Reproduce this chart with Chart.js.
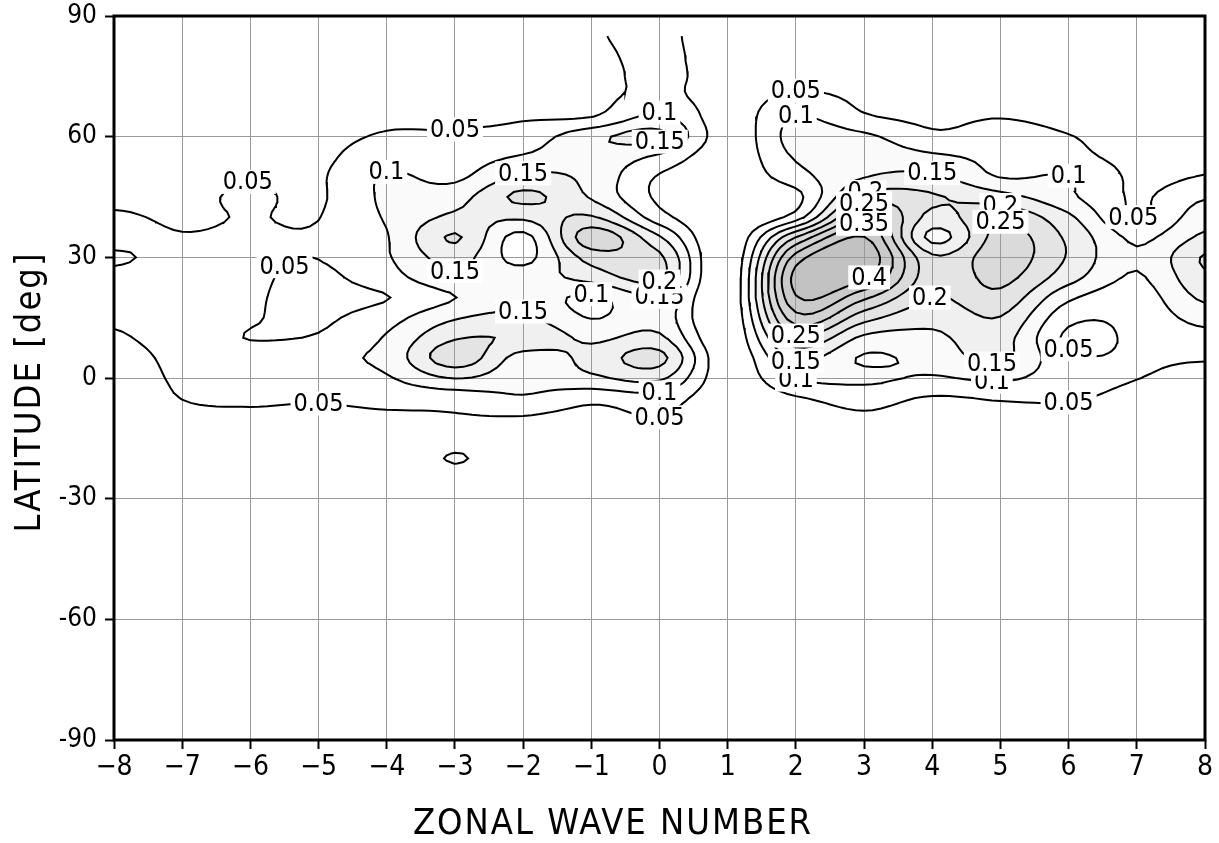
<!DOCTYPE html>
<html>
<head>
<meta charset="utf-8">
<title>Zonal wave number spectrum</title>
<script src="https://cdn.jsdelivr.net/npm/chart.js@4.4.1/dist/chart.umd.min.js"></script>
<style>
  html, body { margin: 0; padding: 0; background: #fff; }
  #box { position: relative; width: 1219px; height: 843px; }
</style>
</head>
<body>
<div id="box"><canvas id="spectrum"></canvas></div>
<script>
'use strict';

// ============================================================
// Data — spectral power on a (wave number x latitude) grid
// ============================================================
const waveNumbers = [-8, -7, -6, -5, -4, -3, -2, -1, 0, 1, 2, 3, 4, 5, 6, 7, 8];
const latitudes   = [85, 80, 75, 70, 65, 60, 55, 50, 45, 40, 35, 30, 25, 20, 15, 10, 5, 0, -5, -10, -15, -20, -25, -30];

// one column per wave number, values listed north -> south (same order as latitudes)
const powerByWave = [
  [0.000,0.005,0.010,0.015,0.020,0.025,0.030,0.035,0.040,0.055,0.060,0.046,0.058,0.060,0.055,0.045,0.030,0.020,0.012,0.008,0.005,0.003,0.000,0.000], // -8
  [0.000,0.005,0.010,0.015,0.020,0.025,0.030,0.035,0.040,0.045,0.052,0.060,0.065,0.065,0.065,0.065,0.062,0.058,0.051,0.035,0.020,0.010,0.000,0.000], // -7
  [0.000,0.005,0.010,0.020,0.030,0.035,0.040,0.048,0.056,0.052,0.056,0.060,0.058,0.055,0.053,0.049,0.060,0.060,0.056,0.040,0.020,0.010,0.000,0.000], // -6
  [0.000,0.005,0.010,0.020,0.030,0.035,0.040,0.045,0.045,0.049,0.055,0.051,0.040,0.035,0.042,0.055,0.090,0.070,0.055,0.035,0.020,0.010,0.000,0.000], // -5
  [0.000,0.005,0.010,0.020,0.040,0.055,0.080,0.105,0.110,0.105,0.097,0.095,0.080,0.048,0.080,0.105,0.115,0.095,0.065,0.040,0.020,0.010,0.000,0.000], // -4
  [0.000,0.010,0.015,0.025,0.042,0.055,0.075,0.090,0.130,0.160,0.205,0.170,0.140,0.099,0.145,0.195,0.230,0.152,0.070,0.046,0.035,0.053,0.030,0.000], // -3
  [0.010,0.015,0.020,0.030,0.045,0.070,0.105,0.160,0.210,0.160,0.085,0.085,0.125,0.130,0.160,0.190,0.130,0.115,0.095,0.045,0.030,0.015,0.010,0.000], // -2
  [0.045,0.040,0.035,0.035,0.048,0.135,0.130,0.135,0.145,0.205,0.280,0.220,0.170,0.090,0.098,0.140,0.165,0.140,0.065,0.030,0.020,0.010,0.005,0.000], // -1
  [0.056,0.058,0.060,0.065,0.110,0.160,0.090,0.045,0.040,0.070,0.155,0.210,0.210,0.148,0.130,0.160,0.215,0.160,0.080,0.049,0.030,0.015,0.005,0.000], //  0
  [0.030,0.030,0.030,0.025,0.020,0.020,0.015,0.010,0.005,0.000,0.000,0.000,0.000,0.000,0.000,0.005,0.010,0.015,0.010,0.005,0.000,0.000,0.000,0.000], //  1
  [0.010,0.020,0.030,0.060,0.102,0.120,0.105,0.080,0.035,0.075,0.250,0.370,0.420,0.395,0.330,0.240,0.160,0.105,0.045,0.020,0.010,0.000,0.000,0.000], //  2
  [0.010,0.020,0.030,0.040,0.055,0.110,0.130,0.148,0.220,0.320,0.402,0.440,0.410,0.310,0.220,0.140,0.095,0.110,0.070,0.040,0.020,0.010,0.000,0.000], //  3
  [0.005,0.010,0.020,0.030,0.040,0.060,0.110,0.160,0.205,0.185,0.135,0.210,0.220,0.198,0.165,0.140,0.120,0.095,0.045,0.020,0.010,0.000,0.000,0.000], //  4
  [0.005,0.010,0.020,0.030,0.048,0.070,0.085,0.098,0.170,0.240,0.270,0.280,0.265,0.235,0.198,0.170,0.160,0.110,0.055,0.030,0.015,0.005,0.000,0.000], //  5
  [0.005,0.010,0.015,0.020,0.035,0.052,0.065,0.102,0.110,0.160,0.190,0.195,0.170,0.110,0.065,0.040,0.060,0.070,0.055,0.030,0.015,0.005,0.000,0.000], //  6
  [0.005,0.010,0.015,0.020,0.025,0.030,0.035,0.040,0.045,0.048,0.090,0.105,0.095,0.075,0.065,0.060,0.055,0.051,0.035,0.020,0.010,0.000,0.000,0.000], //  7
  [0.005,0.010,0.020,0.030,0.035,0.040,0.045,0.052,0.095,0.130,0.160,0.205,0.190,0.160,0.120,0.080,0.053,0.040,0.020,0.010,0.005,0.000,0.000,0.000]  //  8
];

const contourLevels = [0.05, 0.1, 0.15, 0.2, 0.25, 0.3, 0.35, 0.4];
const shadeLevels   = [0.1, 0.15, 0.2, 0.25, 0.3, 0.35, 0.4];
const shadeGreys    = [250, 240, 228, 218, 210, 202, 194];
const latTicks      = [-90, -60, -30, 0, 30, 60, 90];

// where each contour gets its value written: [level, wave number, latitude]
const labelSpots = [
  [0.05, -6.05, 49.5], [0.05, -5.6, 30.5], [0.05, -3, 61.5], [0.05, -5.05, -3.5], [0.05, 0, -10],
  [0.05, 2, 71.5], [0.05, 7, 41.5], [0.05, 6.1, 8.5], [0.05, 6, -7],
  [0.1, -4, 51], [0.1, 0, 66], [0.1, -1, 23.5], [0.1, 0, -3], [0.1, 2, 64.5], [0.1, 6, 50],
  [0.1, 2, -1], [0.1, 4.85, -1.5],
  [0.15, -2, 52], [0.15, 0, 60], [0.15, -3, 27], [0.15, -2, 18], [0.15, 0, 20], [0.15, 4, 53.5],
  [0.15, 2, 4], [0.15, 4.9, 3],
  [0.2, 0, 25], [0.2, 3, 47.5], [0.2, 5, 44], [0.2, 4, 19.5],
  [0.25, 3, 43.5], [0.25, 5, 39.5], [0.25, 2, 12],
  [0.35, 3, 39],
  [0.4, 3, 27.5]
];

const FONT = "'Liberation Sans Narrow', 'DejaVu Sans Condensed', 'Liberation Sans', sans-serif";

// ============================================================
// Field interpolation (Catmull-Rom in both directions)
// ============================================================
function catmull(p0, p1, p2, p3, t) {
    return 0.5 * (2 * p1 + (p2 - p0) * t + (2 * p0 - 5 * p1 + 4 * p2 - p3) * t * t + (3 * p1 - p0 - 3 * p2 + p3) * t * t * t);
}

function gridValue(i, j) {
    i = Math.max(0, Math.min(waveNumbers.length - 1, i));
    j = Math.max(0, Math.min(latitudes.length - 1, j));
    return powerByWave[i][j];
}

function powerAt(k, lat) {
    const fx = k - waveNumbers[0];
    const fy = (latitudes[0] - lat) / (latitudes[0] - latitudes[1]);
    if (fy < 0 || fy > latitudes.length - 1 || fx < 0 || fx > waveNumbers.length - 1) return 0;
    const i = Math.min(Math.floor(fx), waveNumbers.length - 2);
    const j = Math.min(Math.floor(fy), latitudes.length - 2);
    const tx = fx - i, ty = fy - j;
    const col = [];
    for (let m = -1; m <= 2; m++) {
        col.push(catmull(gridValue(i - 1, j + m), gridValue(i, j + m), gridValue(i + 1, j + m), gridValue(i + 2, j + m), tx));
    }
    return catmull(col[0], col[1], col[2], col[3], ty);
}

// ============================================================
// Contour tracing (marching squares on a refined grid)
// ============================================================
const fineK = [], fineLat = [];
for (let n = 0; n <= 128; n++) fineK.push(-8 + n / 8);
for (let n = 0; n <= 92; n++) fineLat.push(85 - n * 1.25);
const fine = fineLat.map(lat => fineK.map(k => powerAt(k, lat)));

// edges: 0 top, 1 right, 2 bottom, 3 left
const CASES = {
    1: [[3, 0]], 2: [[0, 1]], 3: [[3, 1]], 4: [[1, 2]], 6: [[0, 2]], 7: [[3, 2]], 8: [[2, 3]],
    9: [[0, 2]], 11: [[1, 2]], 12: [[3, 1]], 13: [[0, 1]], 14: [[3, 0]]
};

function traceLevel(level) {
    const nx = fineK.length, ny = fineLat.length;
    const points = new Map();
    const segs = [];

    function edgePoint(i, j, e) {
        let id, a, b;
        if (e === 0)      { id = (j * nx + i) * 2;           a = [i, j];     b = [i + 1, j]; }
        else if (e === 2) { id = ((j + 1) * nx + i) * 2;     a = [i, j + 1]; b = [i + 1, j + 1]; }
        else if (e === 3) { id = (j * nx + i) * 2 + 1;       a = [i, j];     b = [i, j + 1]; }
        else              { id = (j * nx + i + 1) * 2 + 1;   a = [i + 1, j]; b = [i + 1, j + 1]; }
        if (!points.has(id)) {
            const va = fine[a[1]][a[0]], vb = fine[b[1]][b[0]];
            const t = (level - va) / (vb - va);
            const k = fineK[a[0]] + (fineK[b[0]] - fineK[a[0]]) * t;
            const lat = fineLat[a[1]] + (fineLat[b[1]] - fineLat[a[1]]) * t;
            points.set(id, [k, lat]);
        }
        return id;
    }

    for (let j = 0; j < ny - 1; j++) {
        for (let i = 0; i < nx - 1; i++) {
            const v0 = fine[j][i], v1 = fine[j][i + 1], v2 = fine[j + 1][i + 1], v3 = fine[j + 1][i];
            const c = (v0 > level ? 1 : 0) | (v1 > level ? 2 : 0) | (v2 > level ? 4 : 0) | (v3 > level ? 8 : 0);
            if (c === 0 || c === 15) continue;
            let pairs = CASES[c];
            if (c === 5 || c === 10) {
                const high = (v0 + v1 + v2 + v3) / 4 > level;
                if (c === 5) pairs = high ? [[0, 1], [2, 3]] : [[3, 0], [1, 2]];
                else pairs = high ? [[3, 0], [1, 2]] : [[0, 1], [2, 3]];
            }
            pairs.forEach(([ea, eb]) => segs.push([edgePoint(i, j, ea), edgePoint(i, j, eb)]));
        }
    }

    // chain the segments into polylines
    const adj = new Map();
    segs.forEach((s, n) => s.forEach(e => {
        if (!adj.has(e)) adj.set(e, []);
        adj.get(e).push(n);
    }));
    const used = new Uint8Array(segs.length);
    const lines = [];
    const walk = (start, out, push) => {
        let cur = start;
        for (;;) {
            const next = adj.get(cur).find(m => !used[m]);
            if (next === undefined) break;
            used[next] = 1;
            cur = segs[next][0] === cur ? segs[next][1] : segs[next][0];
            push ? out.push(cur) : out.unshift(cur);
        }
    };
    segs.forEach((s, n) => {
        if (used[n]) return;
        used[n] = 1;
        const ids = [s[0], s[1]];
        walk(s[1], ids, true);
        walk(s[0], ids, false);
        lines.push(ids.map(id => points.get(id)));
    });
    return lines;
}

const contourLines = contourLevels.map(level => ({ level, lines: traceLevel(level) }));

const datasets = [];
contourLines.forEach(c => c.lines.forEach(line => {
    datasets.push({
        label: String(c.level),
        data: line.map(p => ({ x: p[0], y: p[1] })),
        borderColor: '#000',
        borderWidth: 2,
        pointRadius: 0,
        tension: 0,
        fill: false
    });
}));

// ============================================================
// Plugins: shading, contour labels, frame and axis titles
// ============================================================
const shadePlugin = {
    id: 'shade',
    beforeDraw(chart) {
        const { ctx, chartArea: a, scales: { x, y } } = chart;
        const left = Math.round(a.left), top = Math.round(a.top);
        const w = Math.round(a.right) - left, h = Math.round(a.bottom) - top;
        const img = ctx.createImageData(w, h);
        const ks = [];
        for (let i = 0; i < w; i++) ks.push(x.getValueForPixel(left + i + 0.5));
        for (let j = 0; j < h; j++) {
            const lat = y.getValueForPixel(top + j + 0.5);
            for (let i = 0; i < w; i++) {
                const v = powerAt(ks[i], lat);
                let g = 255;
                for (let n = 0; n < shadeLevels.length; n++) if (v >= shadeLevels[n]) g = shadeGreys[n];
                const p = (j * w + i) * 4;
                img.data[p] = img.data[p + 1] = img.data[p + 2] = g;
                img.data[p + 3] = 255;
            }
        }
        ctx.putImageData(img, left, top);
    }
};

const labelPlugin = {
    id: 'contourLabels',
    afterDatasetsDraw(chart) {
        const { ctx, scales: { x, y } } = chart;
        ctx.save();
        ctx.font = '25px ' + FONT;
        ctx.textAlign = 'center';
        ctx.textBaseline = 'middle';
        labelSpots.forEach(([level, k, lat]) => {
            const set = contourLines.find(c => c.level === level);
            const px = x.getPixelForValue(k), py = y.getPixelForValue(lat);
            let best = null, bestD = 45 * 45;
            set.lines.forEach(line => line.forEach(p => {
                const dx = x.getPixelForValue(p[0]) - px, dy = y.getPixelForValue(p[1]) - py;
                const d = dx * dx + dy * dy;
                if (d < bestD) { bestD = d; best = p; }
            }));
            if (!best) return;
            const cx = x.getPixelForValue(best[0]), cy = y.getPixelForValue(best[1]);
            const text = String(level);
            const tw = ctx.measureText(text).width;
            ctx.fillStyle = '#fff';
            ctx.fillRect(cx - tw / 2 - 3, cy - 12, tw + 6, 24);
            ctx.fillStyle = '#000';
            ctx.fillText(text, cx, cy + 1);
        });
        ctx.restore();
    }
};

const framePlugin = {
    id: 'frame',
    afterDraw(chart) {
        const { ctx, chartArea: a } = chart;
        ctx.save();
        ctx.strokeStyle = '#000';
        ctx.lineWidth = 3;
        ctx.strokeRect(a.left, a.top, a.right - a.left, a.bottom - a.top);

        ctx.fillStyle = '#000';
        ctx.textAlign = 'center';
        ctx.textBaseline = 'middle';
        ctx.font = '36px ' + FONT;
        if ('letterSpacing' in ctx) ctx.letterSpacing = '2px';
        ctx.fillText('ZONAL WAVE NUMBER', 613, 825);
        ctx.translate(31, 392);
        ctx.rotate(-Math.PI / 2);
        ctx.fillText('LATITUDE [deg]', 0, 0);
        ctx.restore();
    }
};

// ============================================================
// Chart
// ============================================================
new Chart(document.getElementById('spectrum'), {
    type: 'line',
    data: { datasets },
    options: {
        responsive: true,
        maintainAspectRatio: false,
        animation: false,
        events: [],
        layout: { padding: { top: 16, right: 14, left: 0, bottom: 0 } },
        plugins: { legend: { display: false }, tooltip: { enabled: false } },
        scales: {
            x: {
                type: 'linear',
                min: waveNumbers[0],
                max: waveNumbers[waveNumbers.length - 1],
                ticks: {
                    stepSize: 1,
                    autoSkip: false,
                    maxRotation: 0,
                    padding: 2,
                    color: '#000',
                    font: { family: FONT, size: 28 },
                    callback: v => (v < 0 ? '\u2212' + Math.abs(v) : String(v))
                },
                grid: { color: '#9a9a9a', lineWidth: 1, tickColor: '#000', tickWidth: 2, tickLength: 9 },
                border: { display: false },
                afterFit: s => { s.height = 103; s.paddingLeft = 0; s.paddingRight = 0; }
            },
            y: {
                type: 'linear',
                min: latTicks[0],
                max: latTicks[latTicks.length - 1],
                afterBuildTicks: s => { s.ticks = latTicks.map(v => ({ value: v })); },
                ticks: {
                    padding: 8,
                    color: '#000',
                    font: { family: FONT, size: 26 },
                    callback: v => String(v)
                },
                grid: { color: '#9a9a9a', lineWidth: 1, tickColor: '#000', tickWidth: 2, tickLength: 9 },
                border: { display: false },
                afterFit: s => { s.width = 114; s.paddingTop = 0; s.paddingBottom = 0; }
            }
        }
    },
    plugins: [shadePlugin, labelPlugin, framePlugin]
});
</script>
</body>
</html>
